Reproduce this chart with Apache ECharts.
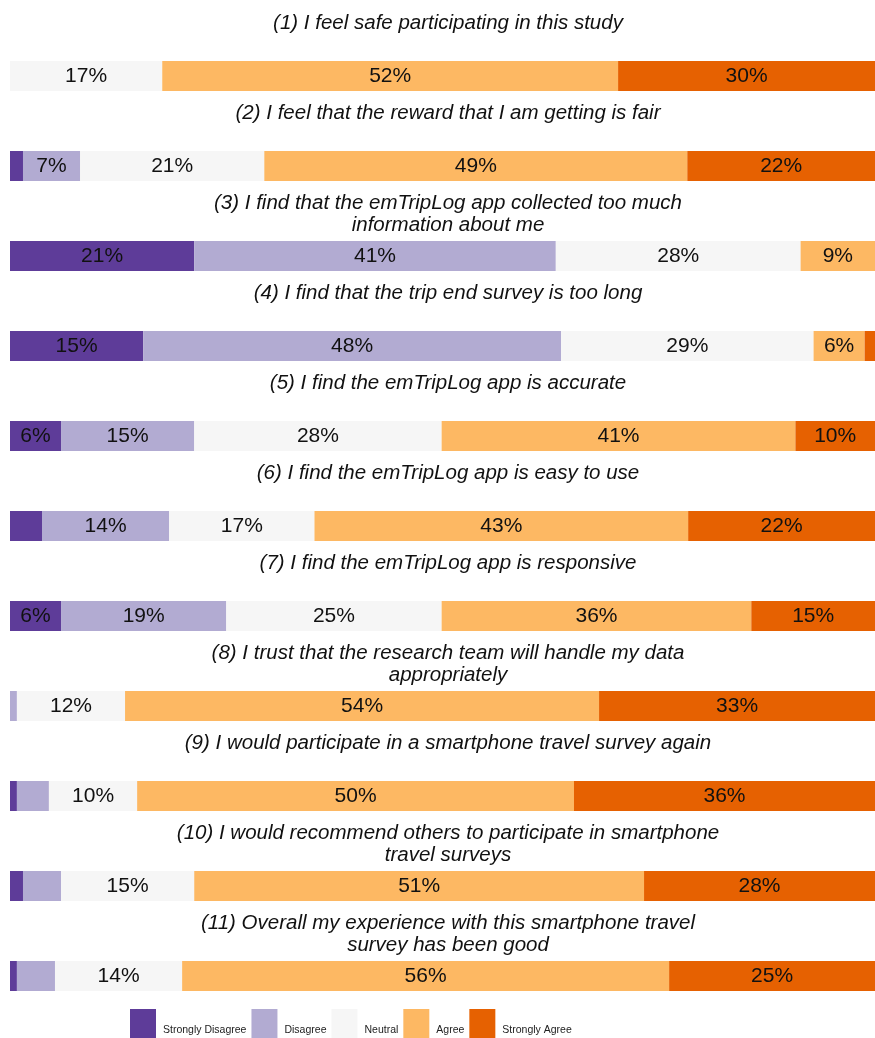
<!DOCTYPE html>
<html>
<head>
<meta charset="utf-8">
<script src="https://cdn.jsdelivr.net/npm/echarts@6/dist/echarts.min.js"></script>
<style>
  body { margin: 0; background: #fff; }
  #chart { width: 875px; height: 1038px; }
</style>
</head>
<body>
<div id="chart"></div>
<script>
const questions = [
  '(1) I feel safe participating in this study',
  '(2) I feel that the reward that I am getting is fair',
  '(3) I find that the emTripLog app collected too much\ninformation about me',
  '(4) I find that the trip end survey is too long',
  '(5) I find the emTripLog app is accurate',
  '(6) I find the emTripLog app is easy to use',
  '(7) I find the emTripLog app is responsive',
  '(8) I trust that the research team will handle my data\nappropriately',
  '(9) I would participate in a smartphone travel survey again',
  '(10) I would recommend others to participate in smartphone\ntravel surveys',
  '(11) Overall my experience with this smartphone travel\nsurvey has been good'
]
const levels = ['Strongly Disagree', 'Disagree', 'Neutral', 'Agree', 'Strongly Agree']
const colors = ['#5e3c99', '#b2abd2', '#f6f6f6', '#fdb863', '#e66101']

// share of answers (%)
const stronglyDisagree = [0, 1.5, 21.3, 15.4, 5.9, 3.7, 5.9, 0, 0.8, 1.5, 0.8]
const disagree = [0, 6.6, 41.8, 48.3, 15.4, 14.7, 19.1, 0.8, 3.7, 4.4, 4.4]
const neutral = [17.6, 21.3, 28.3, 29.2, 28.6, 16.8, 24.9, 12.5, 10.2, 15.4, 14.7]
const agree = [52.7, 48.9, 8.6, 5.9, 40.9, 43.2, 35.8, 54.8, 50.5, 52.0, 56.3]
const stronglyAgree = [29.7, 21.7, 0, 1.2, 9.2, 21.6, 14.3, 31.9, 34.8, 26.7, 23.8]

// printed percentages (null = no label in the segment)
const sdLabels = [null, null, 21, 15, 6, null, 6, null, null, null, null]
const dLabels = [null, 7, 41, 48, 15, 14, 19, null, null, null, null]
const nLabels = [17, 21, 28, 29, 28, 17, 25, 12, 10, 15, 14]
const aLabels = [52, 49, 9, 6, 41, 43, 36, 54, 50, 51, 56]
const saLabels = [30, 22, null, null, 10, 22, 15, 33, 36, 28, 25]

const values = [stronglyDisagree, disagree, neutral, agree, stronglyAgree]
const labels = [sdLabels, dLabels, nLabels, aLabels, saLabels]

const gridTop = 31
const band = 90
const barH = 30

const chart = echarts.init(document.getElementById('chart'), null, { renderer: 'canvas' })

const titles = questions.map((q, i) => {
  const barTop = gridTop + band * i + (band - barH) / 2
  return {
    text: q,
    left: 448,
    top: barTop - 49,
    textAlign: 'center',
    padding: 0,
    textStyle: {
      fontFamily: 'Liberation Sans, Arial, sans-serif',
      fontStyle: 'italic',
      fontWeight: 'normal',
      fontSize: 20.5,
      lineHeight: 22,
      color: '#111'
    }
  }
})

chart.setOption({
  animation: false,
  title: titles,
  color: colors,
  grid: {
    left: 10,
    right: 0,
    top: gridTop,
    height: band * questions.length
  },
  legend: {
    left: 130,
    top: 1009,
    padding: 0,
    icon: 'rect',
    itemWidth: 26,
    itemHeight: 30,
    itemGap: 5,
    formatter: '{t|{name}}',
    textStyle: {
      rich: {
        t: {
          fontFamily: 'Liberation Sans, Arial, sans-serif',
          fontSize: 10.5,
          color: '#222',
          padding: [12, 0, 0, 2]
        }
      }
    },
    data: levels
  },
  xAxis: {
    type: 'value',
    min: 0,
    max: 100,
    show: false
  },
  yAxis: {
    type: 'category',
    inverse: true,
    show: false,
    data: questions
  },
  series: levels.map((name, k) => ({
    name: name,
    type: 'bar',
    stack: 'total',
    barWidth: barH,
    data: values[k],
    label: {
      show: true,
      position: 'inside',
      fontFamily: 'Liberation Sans, Arial, sans-serif',
      fontSize: 21,
      color: '#111',
      formatter: p => (labels[k][p.dataIndex] == null ? '' : labels[k][p.dataIndex] + '%')
    }
  }))
})
</script>
</body>
</html>
